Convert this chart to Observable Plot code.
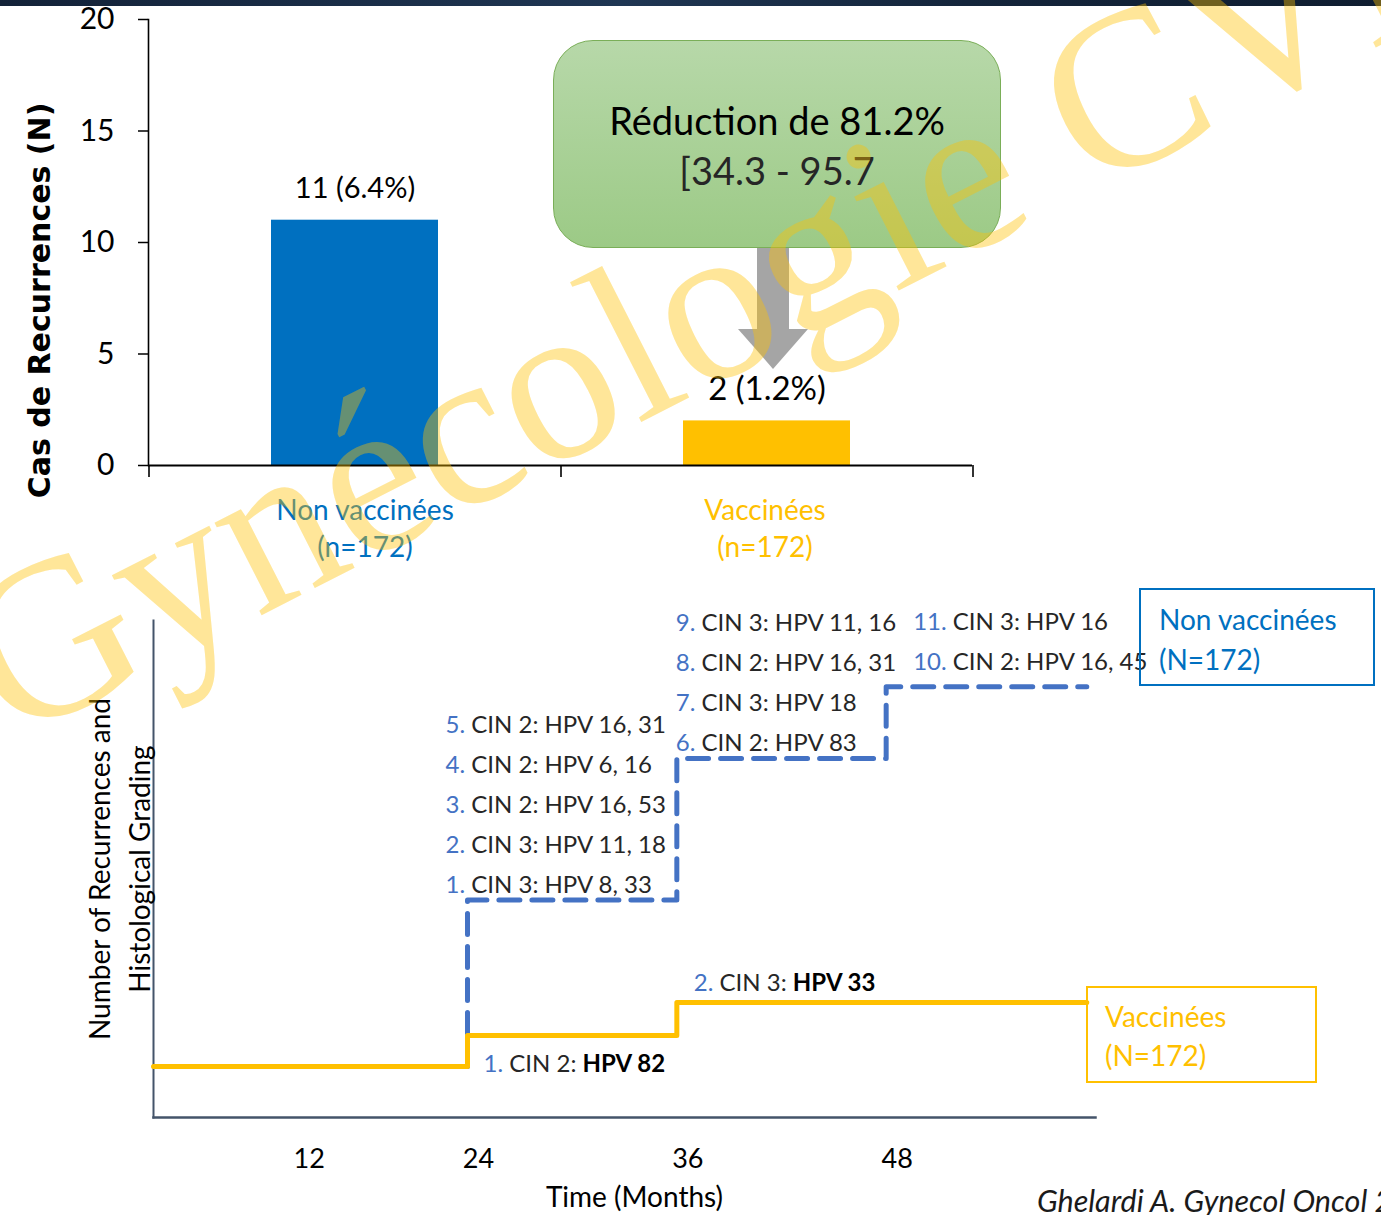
<!DOCTYPE html>
<html lang="fr">
<head>
<meta charset="utf-8">
<title>Récidives après conisation : vaccinées vs non vaccinées</title>
<script src="https://cdn.jsdelivr.net/npm/d3@7"></script>
<script src="https://cdn.jsdelivr.net/npm/@observablehq/plot@0.6"></script>
<style>
  html, body { margin: 0; padding: 0; background: #fff; }
  body { width: 1381px; height: 1215px; overflow: hidden; }
  #page { position: relative; width: 1381px; height: 1215px; overflow: hidden;
          font-family: Lato, "Open Sans", sans-serif; color: #000; }
  #page > * { position: absolute; }
  #band { left: 0; top: 0; width: 1381px; height: 6px;
          background: linear-gradient(90deg, #132238, #1f3653 45%, #14253b 70%, #0f1d30); }
  #topChart { left: 0; top: 0; }
  #bottomChart { left: 0; top: 590px; }
  #callout { left: 553px; top: 40px; width: 448px; height: 208px; box-sizing: border-box;
             border: 1.5px solid #7aae58; border-radius: 40px;
             background: linear-gradient(#b7d8a9, #9cca86); }
  #callout div { position: absolute; left: 0; width: 100%; text-align: center;
                 font-size: 38px; line-height: 44px; white-space: nowrap; }
  #callout .l1 { top: 57px; color: #000; }
  #callout .l2 { top: 107px; color: #262626; }
  .legend-box { box-sizing: border-box; font-size: 28px; white-space: nowrap; }
  #legendNon { left: 1139px; top: 588px; width: 236px; height: 98px; border: 2px solid #0070c0;
               color: #0070c0; padding: 9px 0 0 18px; line-height: 40px; }
  #legendVax { left: 1086px; top: 986px; width: 231px; height: 97px; border: 2px solid #ffc000;
               color: #ffc000; padding: 9px 0 0 17px; line-height: 39px; }
  #source { left: 1037px; top: 1181px; font-size: 30.5px; line-height: 38px; font-style: italic;
            white-space: nowrap; color: #1a1a1a; }
  #watermark { left: 0; top: 0; pointer-events: none; }
</style>
</head>
<body>
<div id="page">
  <div id="topChart"></div>
  <div id="band"></div>
  <div id="callout"><div class="l1"></div><div class="l2"></div></div>
  <div id="bottomChart"></div>
  <div id="legendNon" class="legend-box"></div>
  <div id="legendVax" class="legend-box"></div>
  <div id="source"></div>
</div>
<script>
// ---- Recurrences by vaccination status ----
const groups = ["Non vaccinées", "Vaccinées"];
const groupSizes = [172, 172];
const recurrences = [11, 2];
const recurrencePct = [6.4, 1.2];
const groupColors = ["#0070C0", "#FFC000"];
const countTicks = [0, 5, 10, 15, 20];
const reductionPct = 81.2;
const reductionCI = [34.3, 95.7];

// ---- Recurrences over follow-up, case by case ----
const timeTicks = [12, 24, 36, 48];
const timeDomain = [6, 60];
const followUpEnd = 59.5;
const nonVaxCaseMonth = [24, 24, 24, 24, 24, 36, 36, 36, 36, 48, 48];
const nonVaxCaseGrade = ["CIN 3", "CIN 3", "CIN 2", "CIN 2", "CIN 2", "CIN 2", "CIN 3", "CIN 2", "CIN 3", "CIN 2", "CIN 3"];
const nonVaxCaseHpv = ["8, 33", "11, 18", "16, 53", "6, 16", "16, 31", "83", "18", "16, 31", "11, 16", "16, 45", "16"];
const vaxCaseMonth = [24, 36];
const vaxCaseGrade = ["CIN 2", "CIN 3"];
const vaxCaseHpv = ["82", "33"];

const sourceText = "Ghelardi A. Gynecol Oncol 2018";
const watermarkText = "Gynécologie CVL";

const FONT = "Lato, 'Open Sans', sans-serif";
const TEXT_DARK = "#262626";
const CASE_NUMBER_COLOR = "#4472C4";

// ================= Bar chart =================
const bars = groups.map((group, i) => ({
  group, n: groupSizes[i], count: recurrences[i], pct: recurrencePct[i]
}));

const barLayout = {width: 1000, height: 580, left: 148, right: 28, top: 19, bottom: 115};
const halfStep = (barLayout.width - barLayout.left - barLayout.right) / groups.length / 2;

// flat block-arrow head, tip at the origin
const arrowHead = {
  draw(ctx) { ctx.moveTo(-35, -40); ctx.lineTo(35, -40); ctx.lineTo(0, 0); ctx.closePath(); }
};

// group name and size under each bar
const groupLabel = (subset, dx) => Plot.text(subset, {x: "group", frameAnchor: "bottom",
  text: d => `${d.group}\n(n=${d.n})`, fill: "group", dx, dy: 61, lineAnchor: "middle",
  lineHeight: 1.32, fontSize: 28});

const barChart = Plot.plot({
  width: barLayout.width, height: barLayout.height,
  marginLeft: barLayout.left, marginRight: barLayout.right,
  marginTop: barLayout.top, marginBottom: barLayout.bottom,
  style: {fontFamily: FONT, color: "#000", background: "transparent", overflow: "visible"},
  x: {domain: groups, paddingInner: 0.595, paddingOuter: 0.2975, axis: null},
  y: {domain: [countTicks[0], countTicks[countTicks.length - 1]]},
  color: {domain: groups, range: groupColors},
  marks: [
    Plot.barY(bars, {x: "group", y: "count", fill: "group"}),
    // grey arrow from the unvaccinated level down to the vaccinated bar
    Plot.ruleX(bars.slice(1), {x: "group", y1: recurrences[0], y2: "count", dx: 6, insetBottom: 90,
      stroke: "#a5a5a5", strokeWidth: 32}),
    Plot.dot(bars.slice(1), {x: "group", y: "count", dx: 6, dy: -52, r: 10, symbol: arrowHead,
      fill: "#a5a5a5", stroke: "none"}),
    Plot.ruleY([0], {stroke: "#000", strokeWidth: 2}),
    Plot.frame({anchor: "left", stroke: "#000", strokeWidth: 1.6}),
    Plot.axisY({ticks: countTicks, tickSize: 10, tickPadding: 24, fontSize: 30, label: null,
      stroke: "#000", strokeWidth: 1.5}),
    // category boundary ticks below the baseline
    Plot.ruleX(bars, {x: "group", dx: -halfStep, insetTop: 446, insetBottom: -12, stroke: "#000", strokeWidth: 1.6}),
    Plot.ruleX(bars.slice(-1), {x: "group", dx: halfStep, insetTop: 446, insetBottom: -12, stroke: "#000", strokeWidth: 1.6}),
    Plot.text(bars, {x: "group", y: "count", text: d => `${d.count} (${d.pct}%)`, dy: -31,
      fontSize: (d, i) => (i === 0 ? 29 : 33), fill: "#000"}),
    groupLabel(bars.slice(0, 1), 10),
    groupLabel(bars.slice(1), -2),
    Plot.text(["Cas de Recurrences (N)"], {frameAnchor: "left", rotate: -90, dx: -108, dy: 58,
      textAnchor: "middle", fontSize: 30, fontWeight: "bold",
      fontFamily: "'DejaVu Sans', Verdana, sans-serif", fill: "#000"})
  ]
});
document.getElementById("topChart").append(barChart);

document.querySelector("#callout .l1").textContent = `Réduction de ${reductionPct}%`;
document.querySelector("#callout .l2").textContent = `[${reductionCI[0]} - ${reductionCI[1]}`;

// ================= Step chart =================
function stepSeries(months, start) {
  const sorted = [...months].sort((a, b) => a - b);
  const pts = [{month: start, count: 0}];
  for (const m of [...new Set(sorted)]) pts.push({month: m, count: sorted.filter(v => v <= m).length});
  pts.push({month: followUpEnd, count: sorted.length});
  return pts;
}
const nonVaxSteps = stepSeries(nonVaxCaseMonth, nonVaxCaseMonth[0]);
const vaxSteps = stepSeries(vaxCaseMonth, timeDomain[0]);

const caseLabel = (num, grade, hpv) => `${num}. ${grade}: HPV ${hpv}`;
const nonVaxCases = nonVaxCaseMonth.map((month, i) => ({
  num: i + 1, month, label: caseLabel(i + 1, nonVaxCaseGrade[i], nonVaxCaseHpv[i])
}));
const nonVaxGroups = [...new Set(nonVaxCaseMonth)].map(month => ({
  month,
  level: nonVaxCaseMonth.filter(m => m <= month).length,
  text: nonVaxCases.filter(d => d.month === month).reverse().map(d => d.label).join("\n")
}));
const vaxCases = vaxCaseMonth.map((month, i) => ({
  month, level: vaxCaseMonth.filter(m => m <= month).length,
  text: caseLabel(i + 1, vaxCaseGrade[i], vaxCaseHpv[i])
}));

// placement [dx, dy] of each stacked list relative to its step
const listShift = {24: [-22, -7], 36: [-1, -8], 48: [27, -17]};
const caseText = {textAnchor: "start", lineAnchor: "bottom", fontSize: 24, fill: TEXT_DARK};

const stepChart = Plot.plot({
  width: 1381, height: 625,
  marginLeft: 153, marginRight: 286, marginTop: 30, marginBottom: 98,
  style: {fontFamily: FONT, color: "#000", background: "transparent", overflow: "visible"},
  x: {domain: timeDomain},
  y: {type: "pow", exponent: 1.045, domain: [-1.61, 12.83], axis: null},
  marks: [
    Plot.frame({anchor: "left", stroke: "#44546A", strokeWidth: 2}),
    Plot.frame({anchor: "bottom", stroke: "#44546A", strokeWidth: 2.5}),
    Plot.axisX({ticks: timeTicks.slice(0, 1), tickSize: 0, tickPadding: 31, fontSize: 27, dx: 51, label: null}),
    Plot.axisX({ticks: timeTicks.slice(1), tickSize: 0, tickPadding: 31, fontSize: 27, dx: 11, label: null}),
    Plot.line(nonVaxSteps, {x: "month", y: "count", curve: "step-after", stroke: "#4472C4",
      strokeWidth: 5, strokeDasharray: "21,12"}),
    Plot.line(vaxSteps, {x: "month", y: "count", curve: "step-after", stroke: "#FFC000", strokeWidth: 5}),
    ...nonVaxGroups.map(g => Plot.text([g], {x: "month", y: "level", text: "text", ...caseText,
      lineHeight: 40 / 24, dx: listShift[g.month][0], dy: listShift[g.month][1]})),
    Plot.text(vaxCases.slice(0, 1), {x: "month", y: "level", text: "text", ...caseText, dx: 16, dy: 36}),
    Plot.text(vaxCases.slice(1), {x: "month", y: "level", text: "text", ...caseText, dx: 17, dy: -12}),
    Plot.text(["Time (Months)"], {frameAnchor: "bottom", dx: 10, dy: 81, lineAnchor: "middle",
      fontSize: 28, fill: "#000"}),
    Plot.text(["Number of Recurrences and\nHistological Grading"], {frameAnchor: "left", rotate: -90,
      dx: -36, textAnchor: "middle", lineAnchor: "middle", lineHeight: 1.43, fontSize: 28, fill: "#000"})
  ]
});

// colour the case number, and embolden the HPV type for vaccinated cases
const vaxLabels = new Set(vaxCases.map(d => d.text));
function splitLabel(el) {
  const content = el.textContent;
  const m = content.match(/^(\d+\.)(\s.*?)(HPV.*)$/);
  if (!m) return;
  const bold = vaxLabels.has(content);
  el.textContent = "";
  const add = (s, attrs) => {
    const t = document.createElementNS("http://www.w3.org/2000/svg", "tspan");
    t.textContent = s;
    for (const k in attrs) t.setAttribute(k, attrs[k]);
    el.appendChild(t);
  };
  add(m[1], {fill: CASE_NUMBER_COLOR});
  add(m[2], {});
  add(m[3], bold ? {"font-weight": "bold", fill: "#000"} : {});
}
stepChart.querySelectorAll("text").forEach(text => {
  if (!/^\d+\. CIN/.test(text.textContent)) return;
  const lines = [...text.querySelectorAll("tspan")];
  (lines.length ? lines : [text]).forEach(splitLabel);
});
document.getElementById("bottomChart").append(stepChart);

document.getElementById("legendNon").innerHTML = `${groups[0]}<br>(N=${groupSizes[0]})`;
document.getElementById("legendVax").innerHTML = `${groups[1]}<br>(N=${groupSizes[1]})`;
document.getElementById("source").textContent = sourceText;

// ---- watermark across the whole slide ----
const wm = d3.select("#page").append("svg").attr("id", "watermark")
  .attr("width", 1381).attr("height", 1215);
wm.append("text")
  .attr("transform", "translate(11,743) rotate(-27)")
  .attr("font-family", "'Liberation Serif', 'DejaVu Serif', serif")
  .attr("font-size", 226)
  .attr("fill", "#FFC000").attr("fill-opacity", 0.4)
  .text(watermarkText);
</script>
</body>
</html>
